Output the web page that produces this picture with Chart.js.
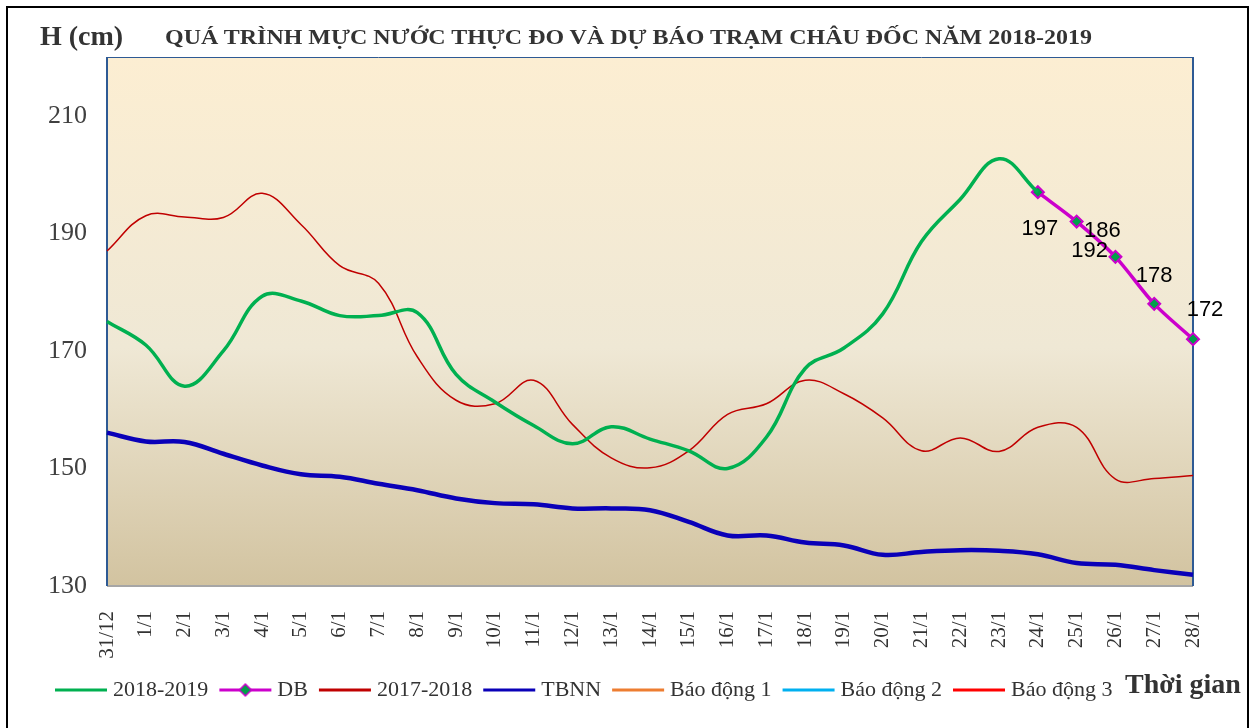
<!DOCTYPE html>
<html>
<head>
<meta charset="utf-8">
<script src="https://cdn.jsdelivr.net/npm/chart.js@4.4.0/dist/chart.umd.min.js"></script>
<style>
  html, body { margin: 0; padding: 0; background: #fff; }
  #wrap { position: relative; width: 1256px; height: 728px; overflow: hidden; }
  #frame { position: absolute; left: 6px; top: 6px; width: 1239px; height: 760px; border: 2px solid #000; }
  #chart { position: absolute; left: 0; top: 0; }
  .txt { position: absolute; font-family: "Liberation Serif", "Times New Roman", serif; font-weight: bold;
         color: #333; white-space: nowrap; line-height: 1; transform-origin: 0 0; }
</style>
</head>
<body>
<div id="wrap">
  <div id="frame"></div>
  <canvas id="chart" width="1256" height="728"></canvas>
  <div class="txt" style="left:40px; top:22px; font-size:28px;">H (cm)</div>
  <div class="txt" id="title" style="left:165px; top:26px; font-size:22px;">QUÁ TRÌNH MỰC NƯỚC THỰC ĐO VÀ DỰ BÁO TRẠM CHÂU ĐỐC NĂM 2018-2019</div>
  <div class="txt" style="left:1125px; top:670px; font-size:28px;">Thời gian</div>
</div>
<script>
// ngày
const dayLabels = ['31/12', '1/1', '2/1', '3/1', '4/1', '5/1', '6/1', '7/1', '8/1', '9/1', '10/1',
    '11/1', '12/1', '13/1', '14/1', '15/1', '16/1', '17/1', '18/1', '19/1', '20/1',
    '21/1', '22/1', '23/1', '24/1', '25/1', '26/1', '27/1', '28/1'];
const yTicks = [130, 150, 170, 190, 210];

// mực nước (cm)
const mua2018_2019 = [175, 171, 164, 170, 179.3, 178.5, 176, 176, 176.5, 166, 161.3, 157.3, 154.2, 157.1,
    155, 153, 150, 155.3, 167, 170.5, 176.3, 188.6, 195.8, 202.7, 197, null, null, null, null];
const duBao = [null, null, null, null, null, null, null, null, null, null, null, null, null, null,
    null, null, null, null, null, null, null, null, null, null, 197, 192, 186, 178, 172];
const mua2017_2018 = [187, 193, 192.8, 192.7, 196.8, 191.5, 184.5, 181.5, 169, 161.6, 161, 165, 157.5, 151.8,
    150.1, 153, 159.2, 161, 165, 162.7, 158.6, 153, 155.2, 152.9, 157, 157, 148.2, 148.3, 148.8];
const tbnn = [156.1, 154.6, 154.5, 152.5, 150.5, 149, 148.6, 147.4, 146.3, 144.9, 144.1, 143.9, 143.2, 143.2,
    142.9, 140.9, 138.6, 138.6, 137.4, 136.9, 135.3, 135.8, 136.1, 136, 135.4, 133.9, 133.6, 132.7, 131.9];
const baoDong1 = [];
const baoDong2 = [];
const baoDong3 = [];

// vị trí nhãn DB so với điểm (dx, dy)
const dbLabelShift = [[2, 37], [13, 29], [-13, -26], [0, -28], [12, -29]];

const serif = '"Liberation Serif", "Times New Roman", serif';

// co giãn tiêu đề cho đúng bề rộng
const title = document.getElementById('title');
title.style.transform = 'scaleX(' + (927 / title.getBoundingClientRect().width) + ')';

// hình mẫu cho chú giải
function legendImg(color, width, diamond) {
    const c = document.createElement('canvas');
    c.width = 54;
    c.height = 16;
    const g = c.getContext('2d');
    g.strokeStyle = color;
    g.lineWidth = width;
    g.beginPath();
    g.moveTo(1, 8);
    g.lineTo(53, 8);
    g.stroke();
    if (diamond) {
        g.beginPath();
        g.moveTo(27, 2); g.lineTo(33, 8); g.lineTo(27, 14); g.lineTo(21, 8); g.closePath();
        g.fillStyle = '#00A04A';
        g.fill();
        g.lineWidth = 1.5;
        g.stroke();
    }
    return c;
}
const legendImgs = [
    legendImg('#00B050', 3, false),
    legendImg('#CC00CC', 3, true),
    legendImg('#C00000', 3, false),
    legendImg('#0A00B8', 3, false),
    legendImg('#ED7D31', 3, false),
    legendImg('#00B0F0', 3, false),
    legendImg('#FF0000', 3, false)
];

// nền và khung vùng vẽ
const plotBg = {
    id: 'plotBg',
    beforeDraw(chart) {
        const {ctx, chartArea: a} = chart;
        const grad = ctx.createLinearGradient(0, a.top, 0, a.bottom);
        grad.addColorStop(0, '#FCEED2');
        grad.addColorStop(0.55, '#EFE8D5');
        grad.addColorStop(1, '#D2C3A0');
        ctx.save();
        ctx.fillStyle = grad;
        ctx.fillRect(a.left, a.top, a.right - a.left, a.bottom - a.top);
        ctx.lineWidth = 2;
        ctx.strokeStyle = '#A6A6A6';
        ctx.beginPath();
        ctx.moveTo(a.left, a.bottom);
        ctx.lineTo(a.right, a.bottom);
        ctx.stroke();
        ctx.strokeStyle = '#2E5A94';
        ctx.beginPath();
        ctx.moveTo(a.left, a.bottom);
        ctx.lineTo(a.left, a.top);
        ctx.moveTo(a.right, a.bottom);
        ctx.lineTo(a.right, a.top);
        ctx.stroke();
        ctx.lineWidth = 1;
        ctx.beginPath();
        ctx.moveTo(a.left, a.top + 0.5);
        ctx.lineTo(a.right, a.top + 0.5);
        ctx.stroke();
        ctx.restore();
    }
};

// nhãn giá trị dự báo
const dbLabels = {
    id: 'dbLabels',
    afterDatasetsDraw(chart) {
        const ctx = chart.ctx;
        const meta = chart.getDatasetMeta(1);
        ctx.save();
        ctx.font = '22px "Liberation Sans", Arial, sans-serif';
        ctx.fillStyle = '#000';
        ctx.textAlign = 'center';
        ctx.textBaseline = 'middle';
        let k = 0;
        duBao.forEach((v, i) => {
            if (v === null) return;
            const p = meta.data[i];
            const s = dbLabelShift[k++];
            ctx.fillText(String(v), p.x + s[0], p.y + s[1]);
        });
        ctx.restore();
    }
};

const ctx = document.getElementById('chart').getContext('2d');
const chart = new Chart(ctx, {
    type: 'line',
    data: {
        labels: dayLabels,
        datasets: [
            {label: '2018-2019', data: mua2018_2019, borderColor: '#00B050', borderWidth: 3.5,
                pointRadius: 0, tension: 0.4},
            {label: 'DB', data: duBao, borderColor: '#CC00CC', borderWidth: 3.5, pointStyle: 'rectRot',
                pointRadius: 6, pointBackgroundColor: '#00A04A', pointBorderColor: '#CC00CC',
                pointBorderWidth: 2, tension: 0.3, clip: false},
            {label: '2017-2018', data: mua2017_2018, borderColor: '#C00000', borderWidth: 1.5,
                pointRadius: 0, tension: 0.4},
            {label: 'TBNN', data: tbnn, borderColor: '#0A00B8', borderWidth: 4.5,
                pointRadius: 0, tension: 0.4},
            {label: 'Báo động 1', data: baoDong1, borderColor: '#ED7D31', borderWidth: 2, pointRadius: 0},
            {label: 'Báo động 2', data: baoDong2, borderColor: '#00B0F0', borderWidth: 2, pointRadius: 0},
            {label: 'Báo động 3', data: baoDong3, borderColor: '#FF0000', borderWidth: 2, pointRadius: 0}
        ]
    },
    options: {
        responsive: false,
        animation: false,
        layout: {padding: {left: 44, top: 57, right: 63, bottom: 17}},
        scales: {
            x: {
                grid: {display: false, drawTicks: false},
                border: {display: false},
                ticks: {maxRotation: 90, minRotation: 90, autoSkip: false, padding: 25,
                    color: '#333', font: {family: serif, size: 21}},
                afterFit: s => { s.height = 77; }
            },
            y: {
                min: 130,
                max: 220,
                grid: {display: false, drawTicks: false},
                border: {display: false},
                ticks: {padding: 20, color: '#404040', font: {family: serif, size: 26}},
                afterBuildTicks: s => { s.ticks = yTicks.map(v => ({value: v})); },
                afterFit: s => { s.width = 63; }
            }
        },
        plugins: {
            legend: {
                position: 'bottom',
                align: 'start',
                labels: {
                    usePointStyle: true,
                    pointStyleWidth: 42,
                    padding: 16,
                    color: '#333',
                    font: {family: serif, size: 22},
                    generateLabels: c => Chart.defaults.plugins.legend.labels.generateLabels(c)
                        .map((it, i) => Object.assign(it, {pointStyle: legendImgs[i]}))
                }
            },
            tooltip: {enabled: false}
        }
    },
    plugins: [plotBg, dbLabels]
});
</script>
</body>
</html>
